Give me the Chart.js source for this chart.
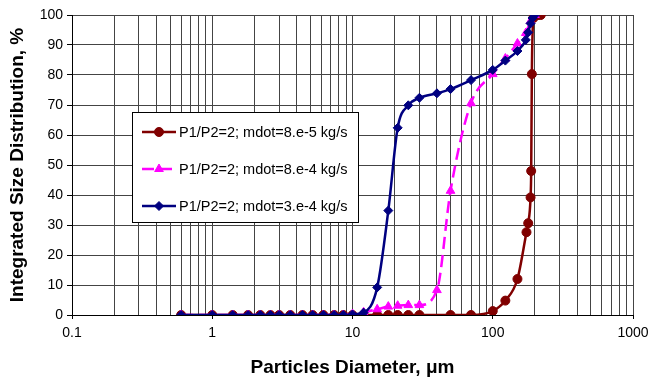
<!DOCTYPE html>
<html>
<head>
<meta charset="utf-8">
<script src="https://cdn.jsdelivr.net/npm/chart.js@4/dist/chart.umd.min.js"></script>
<style>
  html, body { margin: 0; padding: 0; background: #fff; }
  #wrap { width: 650px; height: 381px; }
</style>
</head>
<body>
<div id="wrap"><canvas id="myChart" width="650" height="381"></canvas></div>
<script>
// values
const seriesLabels = [
  'P1/P2=2; mdot=8.e-5 kg/s',
  'P1/P2=2; mdot=8.e-4 kg/s',
  'P1/P2=2; mdot=3.e-4 kg/s'
]

const lowSizes = [0.6, 1.0, 1.4, 1.8, 2.2, 2.6, 3.0, 3.6, 4.4, 5.2, 6.2, 7.4, 8.6]

const redSizes = lowSizes.concat([10, 12, 15, 18, 21, 25, 30, 50, 70, 100, 123, 150, 174, 179, 186, 188, 190, 195, 200, 210, 220])
const redValues = [0, 0, 0, 0, 0, 0, 0, 0, 0, 0, 0, 0, 0,
  0, 0, 0, 0, 0, 0, 0, 0, 0, 1.3, 4.8, 12, 27.6, 30.6, 39.2, 48, 80.3, 99, 100, 100, 100]

const pinkSizes = lowSizes.concat([10, 12, 15, 18, 21, 25, 30, 40, 50, 70, 100, 123, 150, 172, 186, 200])
const pinkValues = [0, 0, 0, 0, 0, 0, 0, 0, 0, 0, 0, 0, 0,
  0.3, 0.9, 1.9, 2.8, 3.1, 3.3, 3.3, 8.3, 41.4, 70.6, 80.3, 85.5, 90.5, 94, 98, 100]

const blueSizes = lowSizes.concat([10, 12, 15, 18, 21, 25, 30, 40, 50, 70, 100, 123, 150, 172, 179, 186, 192, 200])
const blueValues = [0, 0, 0, 0, 0, 0, 0, 0, 0, 0, 0, 0, 0,
  0.2, 0.8, 9.2, 34.8, 62.4, 69.9, 72.4, 73.9, 75.3, 78.3, 81.7, 84.8, 88, 91.7, 94.2, 97.2, 99, 100]

const xTickLabels = ['0.1', '1', '10', '100', '1000']
const yTicks = [0, 10, 20, 30, 40, 50, 60, 70, 80, 90, 100]

const font = "Arial, 'Liberation Sans', sans-serif"

const toPoints = (xs, ys) => xs.map((x, i) => ({ x: x, y: ys[i] }))

// every 1..9 step inside each decade, for the log grid
const logTicks = []
for (let d = -1; d < 3; d++) {
  for (let m = 1; m < 10; m++) logTicks.push(+(m * Math.pow(10, d)).toPrecision(2))
}
logTicks.push(1000)

// legend sits inside the plot, drawn by hand
const boxLegend = {
  id: 'boxLegend',
  afterDatasetsDraw(chart) {
    const ctx = chart.ctx
    const x0 = 132, y0 = 112, w = 226, h = 110
    ctx.save()
    ctx.fillStyle = '#fff'
    ctx.fillRect(x0, y0, w, h)
    ctx.strokeStyle = '#000'
    ctx.lineWidth = 1
    ctx.strokeRect(x0 + 0.5, y0 + 0.5, w, h)
    chart.data.datasets.forEach((ds, i) => {
      const y = y0 + 20 + i * 37
      ctx.strokeStyle = ds.borderColor
      ctx.lineWidth = ds.borderWidth
      ctx.setLineDash(ds.borderDash || [])
      ctx.beginPath()
      ctx.moveTo(x0 + 10, y)
      ctx.lineTo(x0 + 44, y)
      ctx.stroke()
      ctx.setLineDash([])
      ctx.fillStyle = ds.borderColor
      ctx.lineWidth = 1
      Chart.helpers.drawPoint(ctx, {
        pointStyle: ds.pointStyle,
        radius: ds.pointRadius,
        borderWidth: 1
      }, x0 + 27, y)
      ctx.fillStyle = '#000'
      ctx.font = '14.5px ' + font
      ctx.textBaseline = 'middle'
      ctx.fillText(ds.label, x0 + 47, y + 1)
    })
    ctx.restore()
  }
}

const mkSet = (label, xs, ys, color, style, r, dash, order) => ({
  label: label,
  data: toPoints(xs, ys),
  borderColor: color,
  backgroundColor: color,
  pointBackgroundColor: color,
  pointBorderColor: color,
  borderWidth: 2.5,
  borderDash: dash,
  pointStyle: style,
  pointRadius: r,
  pointBorderWidth: 1,
  order: order,
  cubicInterpolationMode: 'monotone'
})

const ctx = document.getElementById('myChart')
const myChart = new Chart(ctx, {
  type: 'line',
  data: {
    datasets: [
      mkSet(seriesLabels[0], redSizes, redValues, '#800000', 'circle', 4.5, [], 2),
      mkSet(seriesLabels[1], pinkSizes, pinkValues, '#FF00FF', 'triangle', 5, [12, 6], 1),
      mkSet(seriesLabels[2], blueSizes, blueValues, '#000080', 'rectRot', 4.5, [], 0)
    ]
  },
  options: {
    responsive: false,
    devicePixelRatio: 1,
    animation: false,
    layout: { padding: { left: 6, right: 17, top: 15, bottom: 2 } },
    plugins: {
      legend: { display: false },
      tooltip: { enabled: false }
    },
    scales: {
      x: {
        type: 'logarithmic',
        min: 0.1,
        max: 1000,
        afterBuildTicks: (scale) => { scale.ticks = logTicks.map(v => ({ value: v })) },
        afterFit: (scale) => {
          scale.height = 64
          scale.paddingLeft = 0
          scale.paddingRight = 0
        },
        ticks: {
          autoSkip: false,
          maxRotation: 0,
          padding: 6,
          color: '#000',
          font: { family: font, size: 14 },
          callback: (v) => {
            const s = String(+v.toPrecision(2))
            return xTickLabels.includes(s) ? s : ''
          }
        },
        grid: {
          color: '#444',
          lineWidth: 1,
          tickLength: 4,
          tickColor: (c) => xTickLabels.includes(String(c.tick && +c.tick.value.toPrecision(2))) ? '#000' : 'rgba(0,0,0,0)'
        },
        border: { color: '#000', width: 1 },
        title: {
          display: true,
          text: 'Particles Diameter, μm',
          color: '#000',
          font: { family: font, size: 19, weight: 'bold' },
          padding: { top: 8, bottom: 0 }
        }
      },
      y: {
        min: 0,
        max: 100,
        afterBuildTicks: (scale) => { scale.ticks = yTicks.map(v => ({ value: v })) },
        afterFit: (scale) => {
          scale.width = 66
          scale.paddingTop = 0
          scale.paddingBottom = 0
        },
        ticks: {
          padding: 4,
          color: '#000',
          font: { family: font, size: 14 }
        },
        grid: { color: '#444', lineWidth: 1, tickLength: 5, tickColor: '#000' },
        border: { color: '#000', width: 1 },
        title: {
          display: true,
          text: 'Integrated Size Distribution, %',
          color: '#000',
          font: { family: font, size: 19, weight: 'bold' },
          padding: { top: 0, bottom: 0 }
        }
      }
    }
  },
  plugins: [boxLegend]
})
</script>
</body>
</html>
